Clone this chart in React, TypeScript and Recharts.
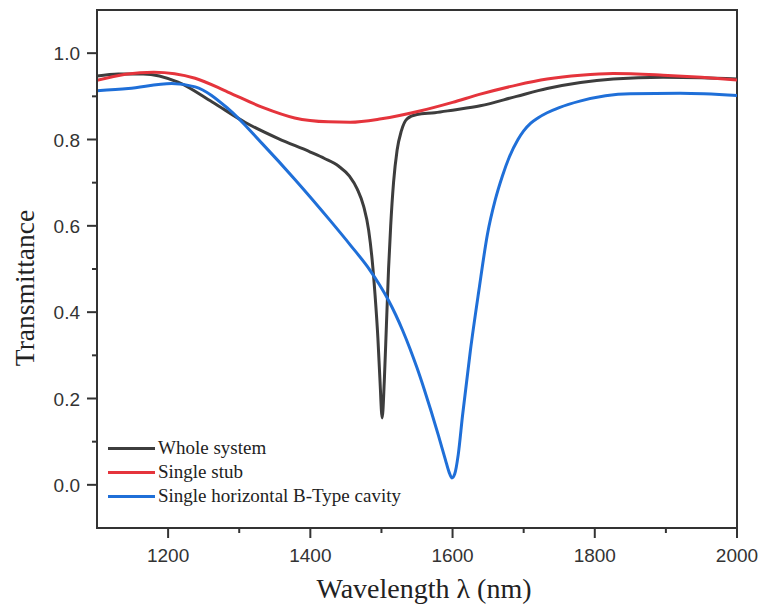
import React from "react";
import {
  LineChart,
  Line,
  XAxis,
  YAxis,
  Legend,
  ReferenceArea,
  Label,
} from "recharts";

// --- values ---

const wholeLambda = [
  1100, 1130, 1165, 1214, 1262, 1308, 1355, 1400, 1420, 1440, 1455, 1466,
  1475, 1482, 1487, 1491, 1495, 1498, 1501, 1504, 1507, 1510, 1513, 1517,
  1522, 1528, 1536, 1550, 1575, 1600, 1639, 1690, 1733, 1780, 1826, 1896,
  1950, 2000,
];
const wholeT = [
  0.947, 0.952, 0.952, 0.933, 0.887, 0.84, 0.802, 0.771, 0.756, 0.738, 0.715,
  0.685, 0.645, 0.59, 0.52, 0.44, 0.34, 0.24, 0.155, 0.24, 0.37, 0.5, 0.6,
  0.7, 0.775, 0.82, 0.848, 0.858, 0.862, 0.868, 0.878, 0.9, 0.918, 0.932,
  0.94, 0.944, 0.943, 0.94,
];

const stubLambda = [
  1100, 1140, 1180, 1238, 1284, 1332, 1378, 1425, 1456, 1500, 1554, 1600,
  1639, 1690, 1733, 1780, 1826, 1896, 1950, 2000,
];
const stubT = [
  0.937, 0.951, 0.956, 0.942, 0.91, 0.875, 0.85, 0.841, 0.84, 0.848, 0.866,
  0.886, 0.905, 0.926, 0.94, 0.949, 0.953, 0.949, 0.944, 0.938,
];

const cavityLambda = [
  1100, 1144, 1205, 1238, 1284, 1332, 1378, 1428, 1456, 1484, 1497, 1510,
  1520, 1530, 1540, 1550, 1560, 1570, 1580, 1590, 1595, 1599, 1603, 1608,
  1614, 1625, 1637, 1649, 1660, 1670, 1680, 1692, 1700, 1710, 1720, 1733,
  1750, 1779, 1850, 1920, 2000,
];
const cavityT = [
  0.913, 0.918, 0.93, 0.922, 0.872, 0.791, 0.708, 0.612, 0.556, 0.497, 0.464,
  0.427, 0.394, 0.357, 0.316, 0.271, 0.222, 0.17, 0.115, 0.058, 0.03, 0.016,
  0.025, 0.07, 0.16, 0.31, 0.45, 0.58, 0.66, 0.715, 0.76, 0.8, 0.82, 0.838,
  0.85, 0.862, 0.874, 0.889, 0.906, 0.907, 0.902,
];

const seriesNames = [
  "Whole system",
  "Single stub",
  "Single horizontal B-Type cavity",
];
const seriesColors = ["#3d3d3d", "#e5343c", "#1f6fd8"];

const xTicks = [1200, 1300, 1400, 1500, 1600, 1700, 1800, 1900, 2000];
const yTicks = [0, 0.1, 0.2, 0.3, 0.4, 0.5, 0.6, 0.7, 0.8, 0.9, 1.0];

const toPoints = (xs: number[], ys: number[]) =>
  xs.map((x, i) => ({ x, y: ys[i] }));

const seriesData = [
  toPoints(wholeLambda, wholeT),
  toPoints(stubLambda, stubT),
  toPoints(cavityLambda, cavityT),
];

const AXIS = "#333";
const tickFont = "'Liberation Sans', Arial, sans-serif";
const serif = "'Liberation Serif', 'Times New Roman', serif";

const XTick = (props: any) => {
  const { x, y, payload } = props;
  const major = Math.round(payload.value) % 200 === 0;
  return (
    <g>
      <line x1={x} x2={x} y1={y} y2={y + (major ? 10 : 5)} stroke={AXIS} strokeWidth={2} />
      {major && (
        <text x={x} y={y + 34} textAnchor="middle" fontSize={19} fontFamily={tickFont} fill="#333">
          {payload.value}
        </text>
      )}
    </g>
  );
};

const YTick = (props: any) => {
  const { x, y, payload } = props;
  const major = Math.round(payload.value * 10) % 2 === 0;
  return (
    <g>
      <line x1={x} x2={x - (major ? 10 : 5)} y1={y} y2={y} stroke={AXIS} strokeWidth={2} />
      {major && (
        <text x={x - 17} y={y + 7} textAnchor="end" fontSize={19} fontFamily={tickFont} fill="#333">
          {payload.value.toFixed(1)}
        </text>
      )}
    </g>
  );
};

// keep legend rows in the order of the series list
const LegendBox = ({ payload }: any) => {
  const items = [...(payload || [])].sort(
    (a: any, b: any) => seriesNames.indexOf(a.value) - seriesNames.indexOf(b.value),
  );
  return (
    <div style={{ fontFamily: serif, fontSize: 19, color: "#222" }}>
      {items.map((p: any) => (
        <div key={p.value} style={{ display: "flex", alignItems: "center", height: 24 }}>
          <span style={{ width: 47, height: 3, background: p.color, marginRight: 3 }} />
          <span>{p.value}</span>
        </div>
      ))}
    </div>
  );
};

export default function App() {
  return (
    <div style={{ position: "absolute", left: 0, top: 0, background: "#fff" }}>
      <LineChart
        width={761}
        height={612}
        margin={{ top: 10, right: 24, left: 0, bottom: 0 }}
      >
        <XAxis
          dataKey="x"
          type="number"
          domain={[1100, 2000]}
          ticks={xTicks}
          allowDataOverflow
          height={84}
          tickSize={0}
          tickMargin={0}
          tickLine={false}
          tick={<XTick />}
          stroke={AXIS}
          strokeWidth={2}
          interval={0}
        >
          <Label
            content={(p: any) => {
              const vb = p.viewBox;
              return (
                <text x={vb.x + vb.width / 2 + 7} y={vb.y + 70} textAnchor="middle" fontSize={28} fontFamily={serif} fill="#222">
                  Wavelength λ (nm)
                </text>
              );
            }}
          />
        </XAxis>
        <YAxis
          type="number"
          domain={[-0.1, 1.1]}
          ticks={yTicks}
          allowDataOverflow
          width={97}
          tickSize={0}
          tickMargin={0}
          tickLine={false}
          tick={<YTick />}
          stroke={AXIS}
          strokeWidth={2}
          interval={0}
        >
          <Label
            content={(p: any) => {
              const vb = p.viewBox;
              const cy = vb.y + vb.height / 2 + 19;
              return (
                <text x={34} y={cy} transform={`rotate(-90, 34, ${cy})`} textAnchor="middle" fontSize={27.5} fontFamily={serif} fill="#222">
                  Transmittance
                </text>
              );
            }}
          />
        </YAxis>
        <ReferenceArea
          x1={1100}
          x2={2000}
          y1={-0.1}
          y2={1.1}
          fill="none"
          stroke={AXIS}
          strokeWidth={2}
          ifOverflow="visible"
        />
        <Legend
          layout="vertical"
          align="center"
          verticalAlign="middle"
          content={<LegendBox />}
          wrapperStyle={{ left: 108, top: 436, width: "auto", height: "auto" }}
        />
        {seriesNames.map((name, i) => (
          <Line
            key={name}
            data={seriesData[i]}
            dataKey="y"
            name={name}
            type="monotone"
            stroke={seriesColors[i]}
            strokeWidth={3}
            dot={false}
            isAnimationActive={false}
          />
        ))}
      </LineChart>
    </div>
  );
}
